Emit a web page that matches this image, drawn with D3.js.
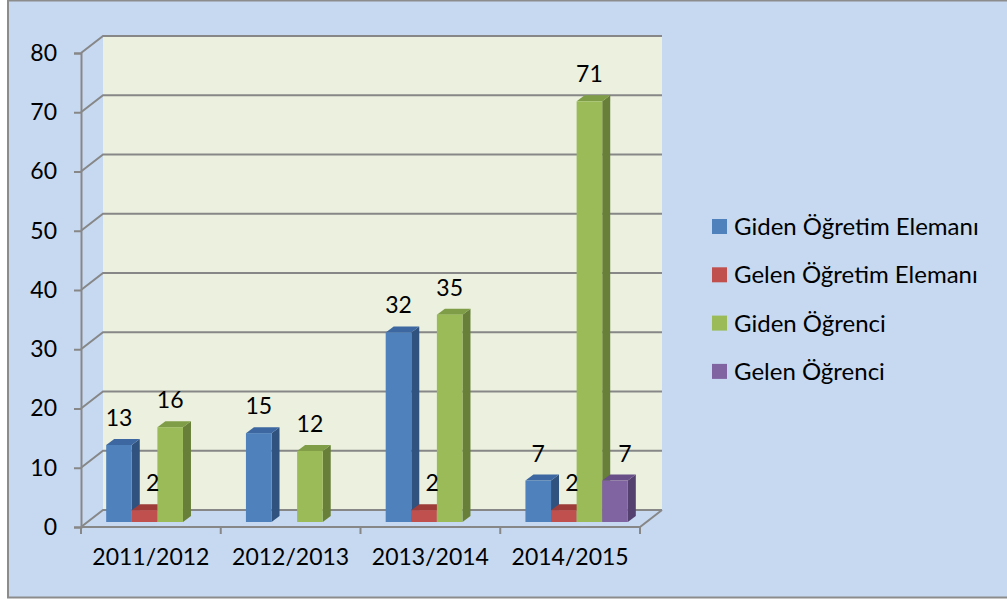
<!DOCTYPE html>
<html>
<head>
<meta charset="utf-8">
<script src="https://cdn.jsdelivr.net/npm/d3@7"></script>
<style>
  html, body { margin: 0; padding: 0; background: #ffffff; }
  svg { display: block; font-family: Lato, "Open Sans", sans-serif; }
</style>
</head>
<body>
<div id="chart"></div>
<script>
// chart data
const categories = ["2011/2012", "2012/2013", "2013/2014", "2014/2015"];
const seriesNames = ["Giden Öğretim Elemanı", "Gelen Öğretim Elemanı", "Giden Öğrenci", "Gelen Öğrenci"];
const gidenEleman = [13, 15, 32, 7];
const gelenEleman = [2, 0, 2, 2];
const gidenOgrenci = [16, 12, 35, 71];
const gelenOgrenci = [0, 0, 0, 7];
const yTicks = [0, 10, 20, 30, 40, 50, 60, 70, 80];

const seriesValues = [gidenEleman, gelenEleman, gidenOgrenci, gelenOgrenci];

// colours: front, top, side
const colors = [
  { front: "#4F81BD", top: "#3D67A0", side: "#30527F" },
  { front: "#C0504D", top: "#9E3C39", side: "#8A3230" },
  { front: "#9BBB59", top: "#7F9C46", side: "#677F38" },
  { front: "#8064A2", top: "#684F87", side: "#55416F" }
];
const labelNudge = [0, 8, 0, 10];

const width = 1007, height = 599;

// floor / wall geometry
const plotLeft = 81, plotRight = 640, plotBottom = 527, plotTop = 53;
const depthX = 22, depthY = -17;      // back wall offset
const barDX = 6.5, barDY = -5;        // bar front plane offset
const barDepthX = 8, barDepthY = -6;  // bar thickness

const svg = d3.select("#chart")
  .append("svg")
  .attr("width", width)
  .attr("height", height);

// chart area (right edge runs off the picture)
svg.append("rect")
  .attr("x", 8).attr("y", 0.5)
  .attr("width", 1010).attr("height", 597)
  .attr("fill", "#C6D9F1")
  .attr("stroke", "#8C8C8C")
  .attr("stroke-width", 2);

const x0 = d3.scaleBand().domain(categories).range([plotLeft, plotRight]);
const x1 = d3.scaleBand().domain(d3.range(seriesNames.length))
  .range([0, x0.bandwidth()]).paddingInner(0).paddingOuter(0.73);
const y = d3.scaleLinear().domain([0, 80]).range([plotBottom, plotTop]);

// back wall
svg.append("rect")
  .attr("x", plotLeft + depthX).attr("y", y(80) + depthY)
  .attr("width", plotRight - plotLeft).attr("height", y(0) - y(80))
  .attr("fill", "#EBF1DE");

const gridColor = "#878787";

// gridlines: side wall diagonal + back wall horizontal
const grid = svg.append("g");
yTicks.forEach(t => {
  grid.append("path")
    .attr("d", `M${plotLeft},${y(t)}L${plotLeft + depthX},${y(t) + depthY}L${plotRight + depthX},${y(t) + depthY}`)
    .attr("fill", "none")
    .attr("stroke", gridColor)
    .attr("stroke-width", 2);
});

// floor front edge + right diagonal
svg.append("path")
  .attr("d", `M${plotLeft},${plotBottom}L${plotRight},${plotBottom}L${plotRight + depthX},${plotBottom + depthY}`)
  .attr("fill", "none")
  .attr("stroke", gridColor)
  .attr("stroke-width", 2);

// value axis
const yAxis = svg.append("g")
  .attr("transform", `translate(${plotLeft},0)`)
  .call(d3.axisLeft(y).tickValues(yTicks).tickSize(7).tickPadding(17));
yAxis.select(".domain").attr("stroke", gridColor).attr("stroke-width", 2);
yAxis.selectAll(".tick line").attr("stroke", gridColor).attr("stroke-width", 2);
yAxis.selectAll("text")
  .attr("font-family", "Lato, sans-serif")
  .attr("font-size", 23)
  .attr("fill", "#000");

// category axis
const xAxis = svg.append("g")
  .attr("transform", `translate(0,${plotBottom})`)
  .call(d3.axisBottom(x0).tickSize(0).tickPadding(22));
xAxis.select(".domain").remove();
xAxis.selectAll("text")
  .attr("font-family", "Lato, sans-serif")
  .attr("font-size", 23)
  .attr("fill", "#000");

// category tick marks between bands
const catEdges = categories.map(c => x0(c)).concat([plotRight]);
svg.append("g")
  .selectAll("line")
  .data(catEdges)
  .enter()
  .append("line")
  .attr("x1", d => d).attr("x2", d => d)
  .attr("y1", plotBottom).attr("y2", plotBottom + 7)
  .attr("stroke", gridColor)
  .attr("stroke-width", 2);

// bars, drawn left to right so each front covers the previous side
const bars = [];
categories.forEach((c, ci) => {
  seriesValues.forEach((vals, si) => {
    if (vals[ci] > 0) bars.push({ cat: c, s: si, v: vals[ci] });
  });
});

const barW = x1.bandwidth();
const barG = svg.append("g");
bars.forEach(d => {
  const bx = x0(d.cat) + x1(d.s) + barDX;
  const by = y(d.v) + barDY;
  const b0 = y(0) + barDY;
  const col = colors[d.s];
  // side
  barG.append("path")
    .attr("d", `M${bx + barW},${b0}L${bx + barW + barDepthX},${b0 + barDepthY}L${bx + barW + barDepthX},${by + barDepthY}L${bx + barW},${by}Z`)
    .attr("fill", col.side);
  // top
  barG.append("path")
    .attr("d", `M${bx},${by}L${bx + barDepthX},${by + barDepthY}L${bx + barW + barDepthX},${by + barDepthY}L${bx + barW},${by}Z`)
    .attr("fill", col.top);
  // front
  barG.append("rect")
    .attr("x", bx).attr("y", by)
    .attr("width", barW).attr("height", b0 - by)
    .attr("fill", col.front);
});

// data labels
svg.append("g")
  .selectAll("text")
  .data(bars)
  .enter()
  .append("text")
  .attr("x", d => x0(d.cat) + x1(d.s) + barDX + barW / 2 + labelNudge[d.s])
  .attr("y", d => y(d.v) + barDY - 19)
  .attr("text-anchor", "middle")
  .attr("font-size", 23)
  .attr("fill", "#000")
  .text(d => d.v);

// legend
const legend = svg.append("g")
  .selectAll("g")
  .data(seriesNames)
  .enter()
  .append("g")
  .attr("transform", (d, i) => `translate(712,${219 + i * 48.3})`);

legend.append("rect")
  .attr("width", 15).attr("height", 15)
  .attr("fill", (d, i) => colors[i].front);

legend.append("text")
  .attr("x", 22).attr("y", 16)
  .attr("font-size", 24)
  .attr("fill", "#000")
  .text(d => d);
</script>
</body>
</html>
